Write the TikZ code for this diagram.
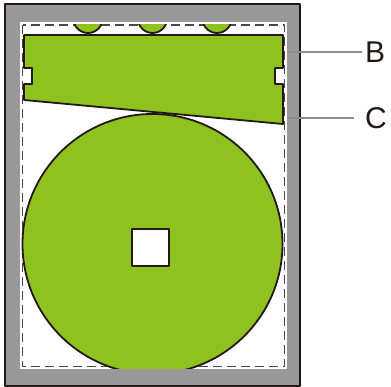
\documentclass[tikz,border=0pt]{standalone}
\usepackage{fontspec}
\setmainfont{Liberation Sans}
\definecolor{leafgreen}{RGB}{141,194,31}
\definecolor{framegray}{RGB}{153,153,153}
\definecolor{inkdark}{RGB}{35,24,21}

\begin{document}
\begin{tikzpicture}[x=1pt,y=-1pt,line join=round,
  outline/.style={draw=inkdark,line width=1.8pt},
  leader/.style={draw=gray!90,line width=1.5pt},
  callout/.style={font=\fontsize{30}{32}\selectfont,text=inkdark,inner sep=3pt}]
\useasboundingbox (0,0) rectangle (391,387);
% tray frame and printable area
\filldraw[fill=framegray,draw=inkdark,line width=2pt] (5,4) rectangle (299.5,386);
\fill[white] (20,22) rectangle (287,369);
\draw[dash pattern=on 9pt off 5pt,draw=inkdark!80,line width=1.8pt] (22.5,25) rectangle (284.5,366.5);
% discs peeking in at the top
\begin{scope}
\clip (22.5,25) rectangle (284.5,366.5);
\foreach \cx in {88,152.5,217}
  \filldraw[fill=leafgreen,outline] (\cx,18.4) circle (14.6);
\end{scope}
% band with notches
\filldraw[fill=leafgreen,outline] (24,35) -- (283,35) -- (283,68) -- (275,68) -- (275,84) -- (283,84)
  -- (283,124) -- (24,100) -- (24,84) -- (32,84) -- (32,68) -- (24,68) -- cycle;
% big disc
\begin{scope}
\clip (20,22) rectangle (287,368.5);
\filldraw[fill=leafgreen,outline] (152.5,244) circle (130);
\end{scope}
\filldraw[fill=white,outline] (132,229) rectangle (169,266);
% callouts
\coordinate (tipB) at (287,52);
\coordinate (tipC) at (287,118);
\node[callout,anchor=west] (labB) at (362,52) {B};
\node[callout,anchor=west] (labC) at (362,118) {C};
\draw[leader] (tipB) -- (labB.west);
\draw[leader,shorten >=8pt] (tipC) -- (labC.west);
\end{tikzpicture}
\end{document}
